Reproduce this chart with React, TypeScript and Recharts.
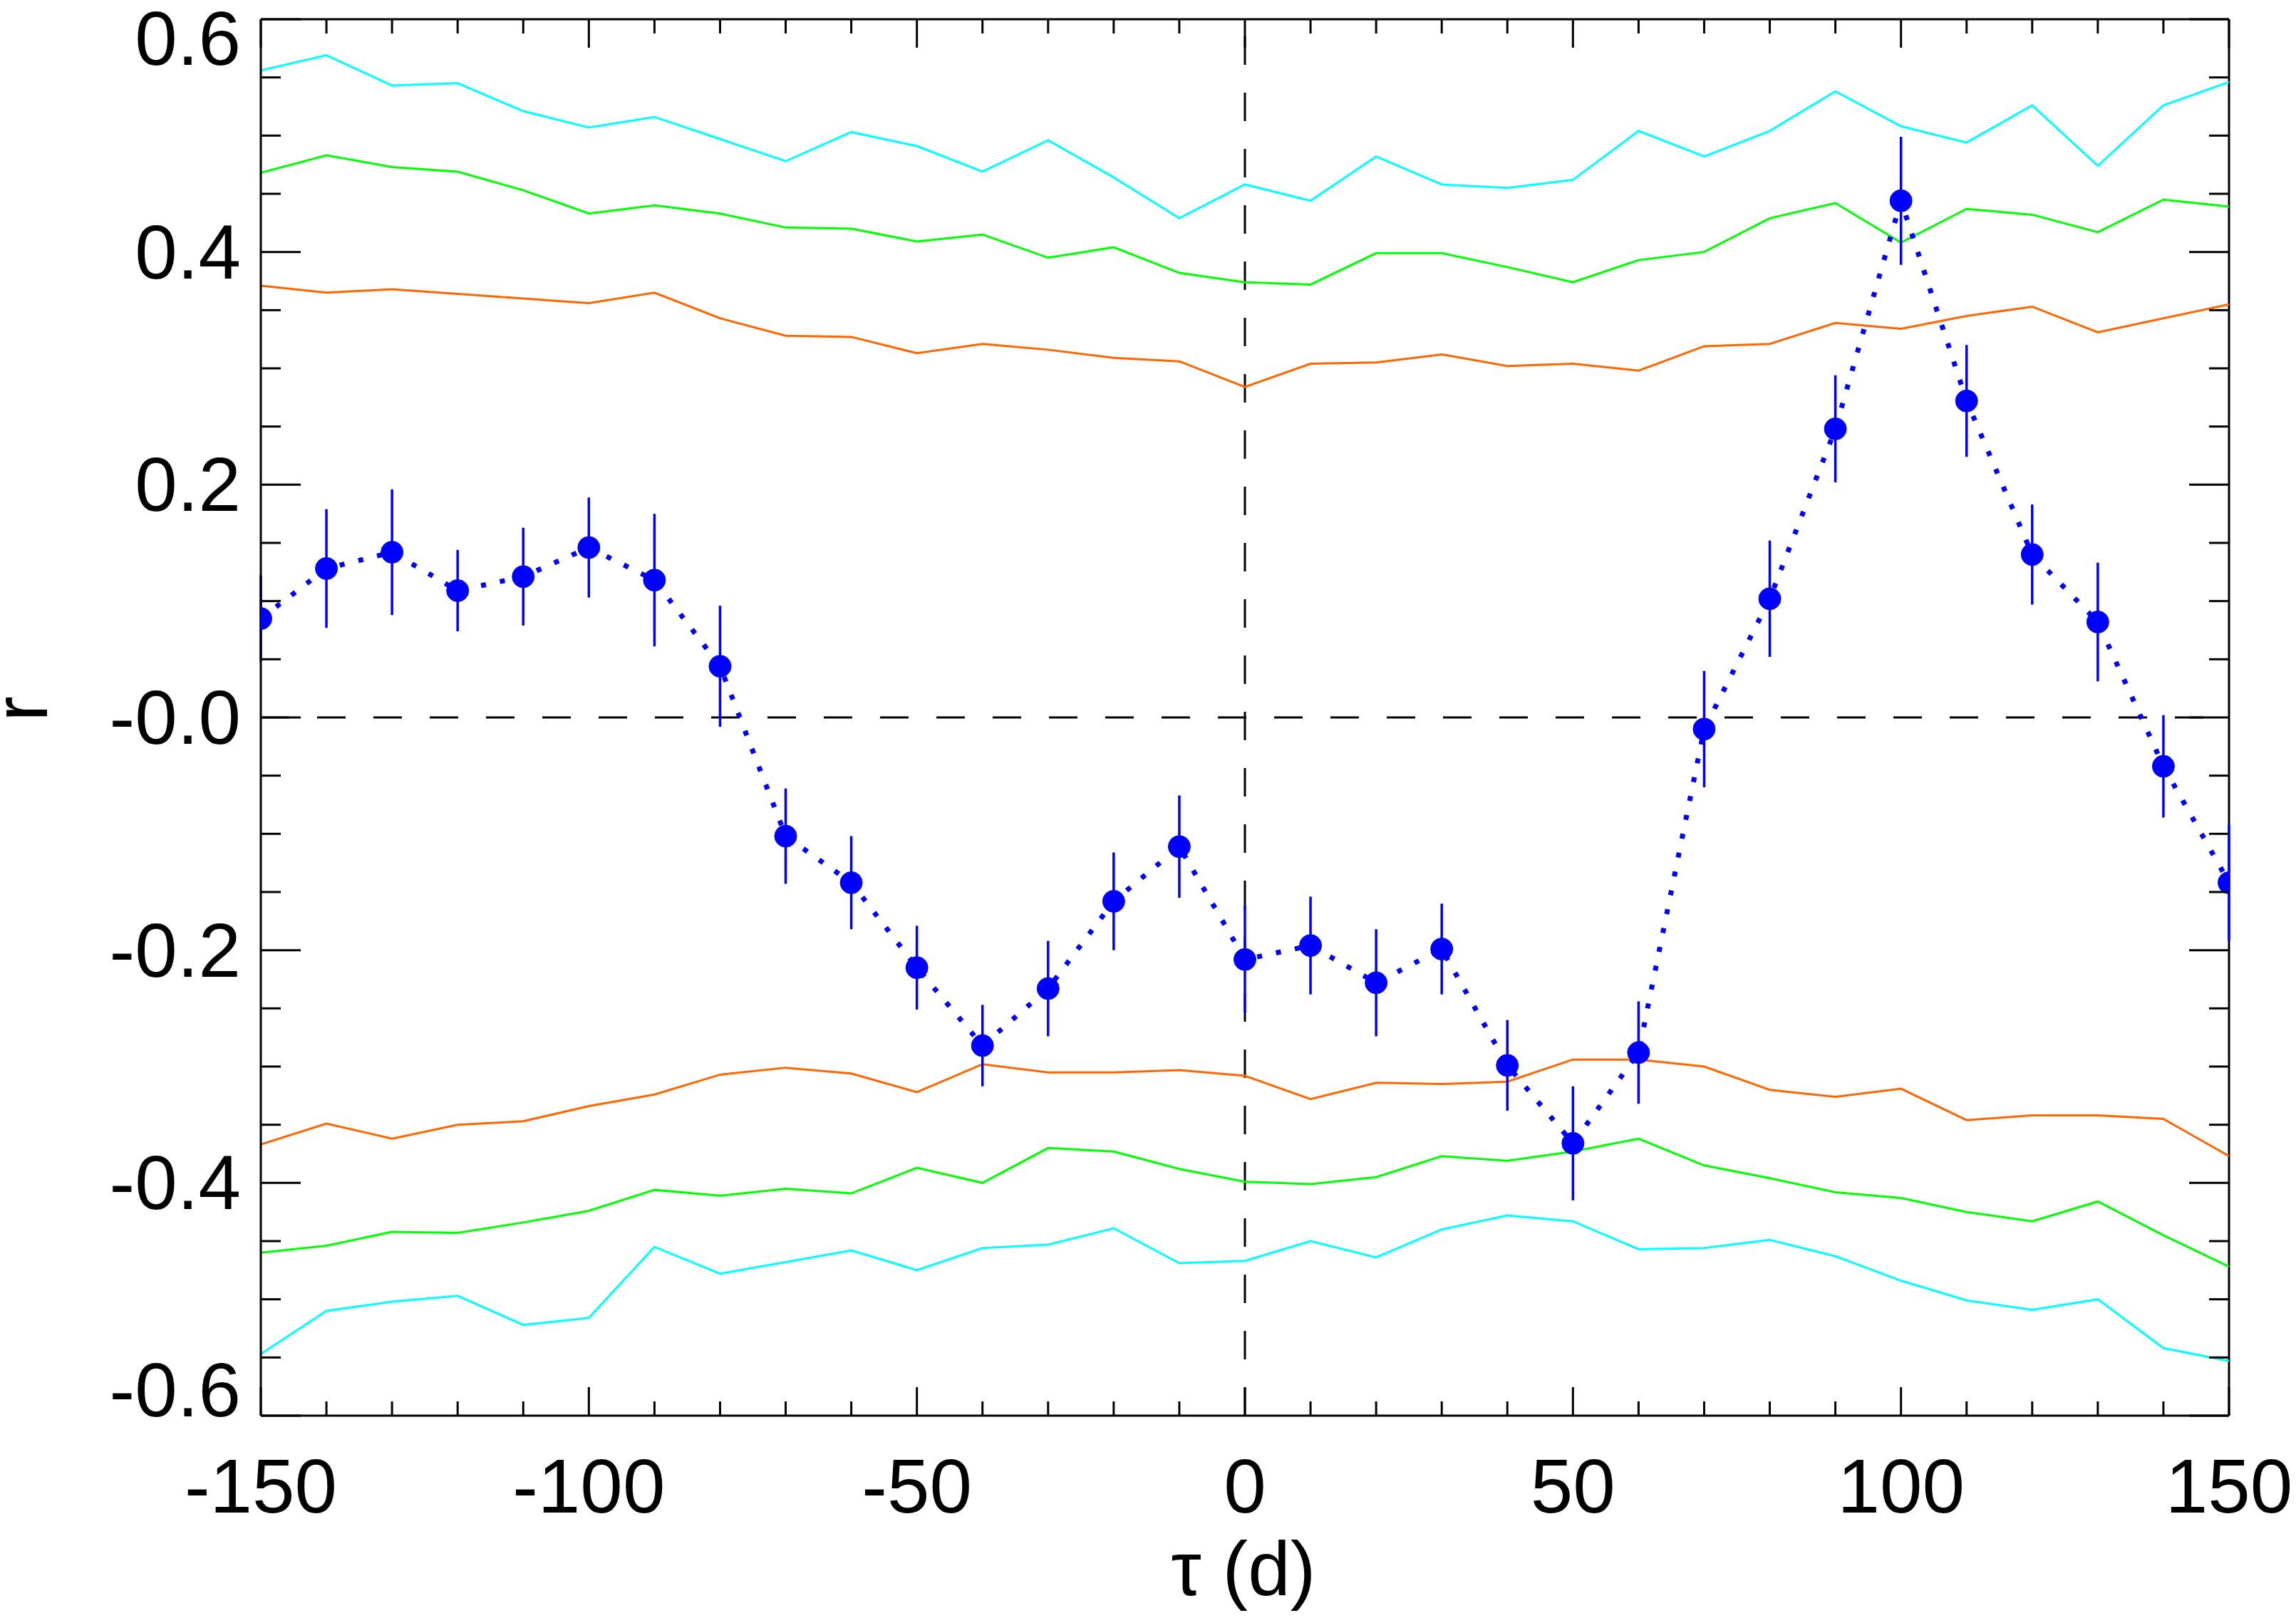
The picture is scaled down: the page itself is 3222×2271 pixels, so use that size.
import React from 'react';
import { ComposedChart, Line, XAxis, YAxis, ErrorBar, ReferenceLine } from 'recharts';

const lags = [-150, -140, -130, -120, -110, -100, -90, -80, -70, -60, -50, -40, -30, -20, -10, 0, 10, 20, 30, 40, 50, 60, 70, 80, 90, 100, 110, 120, 130, 140, 150];

const corrR = [0.085, 0.128, 0.142, 0.109, 0.121, 0.146, 0.118, 0.044, -0.102, -0.142, -0.215, -0.282, -0.233, -0.158, -0.111, -0.208, -0.196, -0.228, -0.199, -0.299, -0.366, -0.288, -0.010, 0.102, 0.248, 0.444, 0.272, 0.140, 0.082, -0.042, -0.142];
const corrErr = [0.037, 0.051, 0.054, 0.035, 0.042, 0.043, 0.057, 0.052, 0.041, 0.040, 0.036, 0.035, 0.041, 0.042, 0.044, 0.046, 0.042, 0.046, 0.039, 0.039, 0.049, 0.044, 0.050, 0.050, 0.046, 0.055, 0.048, 0.043, 0.051, 0.044, 0.050];

const cyanUpper = [0.556, 0.569, 0.543, 0.545, 0.521, 0.507, 0.516, 0.497, 0.478, 0.503, 0.491, 0.469, 0.496, 0.464, 0.429, 0.458, 0.444, 0.482, 0.458, 0.455, 0.462, 0.504, 0.482, 0.504, 0.538, 0.508, 0.494, 0.526, 0.474, 0.526, 0.546];
const greenUpper = [0.468, 0.483, 0.473, 0.469, 0.453, 0.433, 0.440, 0.433, 0.421, 0.420, 0.409, 0.415, 0.395, 0.404, 0.382, 0.374, 0.372, 0.399, 0.399, 0.387, 0.374, 0.393, 0.400, 0.429, 0.442, 0.408, 0.437, 0.432, 0.417, 0.445, 0.439];
const orangeUpper = [0.371, 0.365, 0.368, 0.364, 0.360, 0.356, 0.365, 0.343, 0.328, 0.327, 0.313, 0.321, 0.316, 0.309, 0.306, 0.284, 0.304, 0.305, 0.312, 0.302, 0.304, 0.298, 0.319, 0.321, 0.339, 0.334, 0.345, 0.353, 0.331, 0.343, 0.355];
const orangeLower = [-0.367, -0.349, -0.362, -0.350, -0.347, -0.334, -0.324, -0.307, -0.301, -0.306, -0.322, -0.298, -0.305, -0.305, -0.303, -0.308, -0.328, -0.314, -0.315, -0.313, -0.294, -0.294, -0.300, -0.320, -0.326, -0.319, -0.346, -0.342, -0.342, -0.345, -0.377];
const greenLower = [-0.460, -0.454, -0.442, -0.443, -0.434, -0.424, -0.406, -0.411, -0.405, -0.409, -0.387, -0.400, -0.370, -0.373, -0.388, -0.399, -0.401, -0.395, -0.377, -0.381, -0.373, -0.362, -0.385, -0.396, -0.408, -0.413, -0.425, -0.433, -0.416, -0.445, -0.472];
const cyanLower = [-0.547, -0.510, -0.502, -0.497, -0.522, -0.516, -0.455, -0.478, -0.468, -0.458, -0.475, -0.456, -0.453, -0.439, -0.469, -0.467, -0.450, -0.464, -0.440, -0.428, -0.433, -0.457, -0.456, -0.449, -0.463, -0.484, -0.501, -0.509, -0.500, -0.542, -0.553];

const xTicks = [-150, -140, -130, -120, -110, -100, -90, -80, -70, -60, -50, -40, -30, -20, -10, 0, 10, 20, 30, 40, 50, 60, 70, 80, 90, 100, 110, 120, 130, 140, 150];
const xMajorTicks = [-150, -100, -50, 0, 50, 100, 150];
const xTickLabels = ['-150', '-100', '-50', '0', '50', '100', '150'];

const yTicks = [-0.6, -0.55, -0.5, -0.45, -0.4, -0.35, -0.3, -0.25, -0.2, -0.15, -0.1, -0.05, 0, 0.05, 0.1, 0.15, 0.2, 0.25, 0.3, 0.35, 0.4, 0.45, 0.5, 0.55, 0.6];
const yMajorTicks = [-0.6, -0.4, -0.2, 0, 0.2, 0.4, 0.6];
const yTickLabels = ['-0.6', '-0.4', '-0.2', '-0.0', '0.2', '0.4', '0.6'];

const tableData = lags.map((lag, i) => ({
  lag,
  r: corrR[i],
  err: corrErr[i],
  cyanUp: cyanUpper[i],
  greenUp: greenUpper[i],
  orangeUp: orangeUpper[i],
  orangeLo: orangeLower[i],
  greenLo: greenLower[i],
  cyanLo: cyanLower[i],
}));

const W = 3222;
const H = 2271;
const PL = 366;
const PR = 3128;
const PT = 27;
const PB = 1987;
const FONT = '"Liberation Sans", Arial, Helvetica, sans-serif';
const FS = 107;
const AX = 3;

const findIdx = (arr: number[], v: number) => arr.findIndex((t) => Math.abs(t - v) < 1e-9);

const XTick = (props: any) => {
  const { x, payload } = props;
  const v = payload.value;
  const mi = findIdx(xMajorTicks, v);
  const len = mi >= 0 ? 40 : 20;
  return (
    <g>
      <line x1={x} x2={x} y1={PB} y2={PB - len} stroke="#000" strokeWidth={AX} />
      <line x1={x} x2={x} y1={PT} y2={PT + len} stroke="#000" strokeWidth={AX} />
      {mi >= 0 && (
        <text x={x} y={2123} textAnchor="middle" fontSize={FS} fontFamily={FONT} fill="#000">
          {xTickLabels[mi]}
        </text>
      )}
    </g>
  );
};

const YTick = (props: any) => {
  const { y, payload } = props;
  const v = payload.value;
  const mi = findIdx(yMajorTicks, v);
  const len = mi >= 0 ? 56 : 28;
  let base = y + 37;
  if (mi === yMajorTicks.length - 1) base = y + 64;
  if (mi === 0) base = y + 1;
  return (
    <g>
      <line x1={PL} x2={PL + len} y1={y} y2={y} stroke="#000" strokeWidth={AX} />
      <line x1={PR} x2={PR - len} y1={y} y2={y} stroke="#000" strokeWidth={AX} />
      {mi >= 0 && (
        <text x={338} y={base} textAnchor="end" fontSize={FS} fontFamily={FONT} fill="#000">
          {yTickLabels[mi]}
        </text>
      )}
    </g>
  );
};

const XTitle = () => (
  <text x={1745} y={2239} textAnchor="middle" fontSize={FS} fontFamily={FONT} fill="#000">
    τ (d)
  </text>
);

const YTitle = () => (
  <text x={66} y={995} transform="rotate(-90, 66, 995)" textAnchor="middle" fontSize={FS} fontFamily={FONT} fill="#000">
    r
  </text>
);

export default function App() {
  return (
    <div style={{ position: 'absolute', left: 0, top: 0, width: W, height: H, background: '#fff' }}>
      <ComposedChart width={W} height={H} data={tableData} margin={{ top: PT, right: W - PR, bottom: 0, left: 0 }}>
        <XAxis
          dataKey="lag"
          type="number"
          domain={[-150, 150]}
          ticks={xTicks}
          interval={0}
          height={H - PB}
          allowDataOverflow
          tickLine={false}
          axisLine={{ stroke: '#000', strokeWidth: AX }}
          tick={<XTick />}
          label={<XTitle />}
        />
        <YAxis
          type="number"
          domain={[-0.6, 0.6]}
          ticks={yTicks}
          interval={0}
          width={PL}
          allowDataOverflow
          tickLine={false}
          axisLine={{ stroke: '#000', strokeWidth: AX }}
          tick={<YTick />}
          label={<YTitle />}
        />
        <ReferenceLine y={0.6} stroke="#000" strokeWidth={AX} />
        <ReferenceLine x={150} stroke="#000" strokeWidth={AX} />
        <ReferenceLine y={0} stroke="#000" strokeWidth={AX} strokeDasharray="40 39" />
        <ReferenceLine x={0} stroke="#000" strokeWidth={AX} strokeDasharray="40 39" />
        <Line dataKey="cyanUp" type="linear" stroke="#00ffff" strokeWidth={3} dot={false} isAnimationActive={false} />
        <Line dataKey="greenUp" type="linear" stroke="#00ff00" strokeWidth={3} dot={false} isAnimationActive={false} />
        <Line dataKey="orangeUp" type="linear" stroke="#ff6600" strokeWidth={3} dot={false} isAnimationActive={false} />
        <Line dataKey="orangeLo" type="linear" stroke="#ff6600" strokeWidth={3} dot={false} isAnimationActive={false} />
        <Line dataKey="greenLo" type="linear" stroke="#00ff00" strokeWidth={3} dot={false} isAnimationActive={false} />
        <Line dataKey="cyanLo" type="linear" stroke="#00ffff" strokeWidth={3} dot={false} isAnimationActive={false} />
        <Line
          dataKey="r"
          type="linear"
          stroke="#0000ff"
          strokeWidth={7}
          strokeDasharray="7 20"
          dot={{ r: 15.5, fill: '#0000ff', stroke: '#0000ff', strokeWidth: 1, strokeDasharray: '' }}
          activeDot={false}
          isAnimationActive={false}
        >
          <ErrorBar dataKey="err" width={0} stroke="#0000ff" strokeWidth={3.5} direction="y" />
        </Line>
      </ComposedChart>
    </div>
  );
}
